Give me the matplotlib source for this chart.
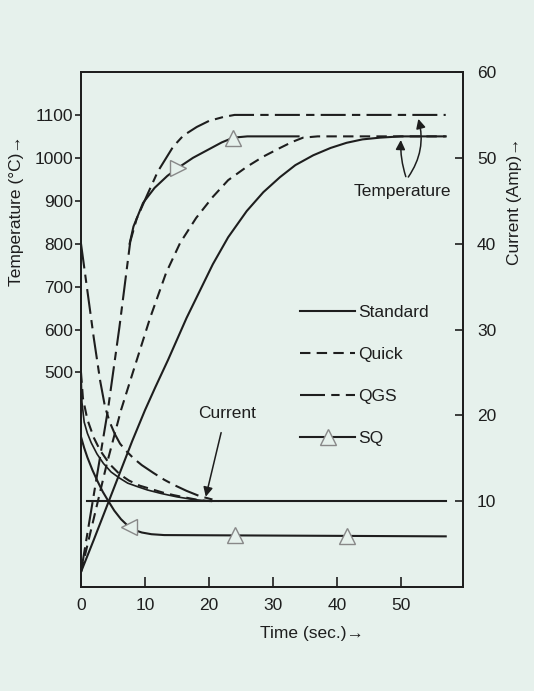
import numpy as np
import matplotlib
matplotlib.use("Agg")
import matplotlib.pyplot as plt
from matplotlib import font_manager
from matplotlib.lines import Line2D

names = set(f.name for f in font_manager.fontManager.ttflist)
fam = "Liberation Sans Narrow" if "Liberation Sans Narrow" in names else "Liberation Sans"
plt.rcParams['font.family'] = [fam, 'DejaVu Sans']

# temperature curves (deg C) vs time (s)
std_temp_t = [0, 2, 5, 8, 10, 11.6, 13.6, 16.5, 20.6, 23, 25.9, 28.5, 31.1, 33.5, 36.3, 39, 41.5, 44, 46.7, 50, 57]
std_temp = [35, 110, 225, 340, 412, 465, 529, 627, 752, 815, 876, 920, 955, 983, 1006, 1023, 1035, 1043, 1047, 1050, 1050]

quick_temp_t = [0, 2, 4, 6.25, 8, 10.8, 13.3, 15.5, 18, 20.6, 23, 25.9, 28.5, 31.1, 33, 34.7, 37, 57]
quick_temp = [35, 160, 285, 412, 495, 627, 732, 802, 860, 909, 948, 979, 1003, 1023, 1037, 1047, 1050, 1050]

qgs_temp_t = [0, 2, 4.2, 6, 7.7, 8.7, 10.3, 12, 14.4, 16, 18.1, 20, 22.2, 24, 57]
qgs_temp = [35, 215, 412, 605, 805, 858, 912, 968, 1026, 1052, 1072, 1086, 1095, 1100, 1100]

sq_temp_t = [7.6, 8.2, 9.7, 11.5, 13.5, 15.2, 17.5, 20, 22, 23.8, 26, 34]
sq_temp = [800, 840, 895, 930, 958, 977, 1000, 1020, 1036, 1047, 1050, 1050]
sq_temp_marks = [15.2, 23.8]

# current curves (Amp) vs time (s)
std_cur_t = [1, 57]
std_cur = [10, 10]

arc_cur_t = [0, 0.15, 0.5, 1, 1.6, 2.5, 3.5, 4.7, 6, 7.3, 8.8, 10.4, 12.5, 15, 17.5, 20]
arc_cur = [25, 21.5, 19.2, 17.9, 16.8, 15.5, 14.4, 13.4, 12.7, 12.1, 11.7, 11.3, 10.9, 10.5, 10.2, 10.0]

quick_cur_t = [0, 0.3, 1, 2, 3, 4.5, 6.1, 7.5, 9.2, 11, 12.8, 14.5, 16.5, 18.6, 20.5]
quick_cur = [25, 22, 19.5, 17.4, 15.9, 14.3, 13.1, 12.4, 11.8, 11.4, 11.0, 10.7, 10.4, 10.1, 10.0]

qgs_cur_t = [0, 1, 2, 3, 3.75, 4.5, 5.3, 6.1, 7, 8.2, 9.5, 11.3, 13, 14.5, 16.5, 18.5, 20, 21.5]
qgs_cur = [40, 34.5, 29, 24, 21, 19.2, 17.8, 16.7, 15.9, 15.0, 14.2, 13.3, 12.5, 11.9, 11.2, 10.6, 10.3, 10.0]

sq_cur_t = [0, 0.5, 1, 1.8, 2.6, 3.4, 4.2, 5.2, 6.25, 7.5, 8.5, 9.5, 11, 13, 57]
sq_cur = [17.5, 16.2, 15.1, 13.6, 12.3, 11.1, 10.1, 8.9, 7.9, 7.0, 6.6, 6.35, 6.15, 6.05, 5.9]
sq_cur_marks = [7.5, 24, 41.5]

ink = '#1e1e1e'
bg = '#e6f1ec'
lw = 1.5
dash_q = (0, (5, 3))
dash_g = (0, (12, 3, 4, 3))

fig = plt.figure(figsize=(5.34, 6.91), dpi=100, facecolor=bg)
ax = fig.add_axes([81/534, 1-587/691, 382/534, 515/691])
ax.set_facecolor(bg)
ax2 = ax.twinx()

ax.plot(std_temp_t, std_temp, color=ink, lw=lw)
ax.plot(quick_temp_t, quick_temp, color=ink, lw=lw, linestyle=dash_q)
ax.plot(qgs_temp_t, qgs_temp, color=ink, lw=lw, linestyle=dash_g)
ax.plot(sq_temp_t, sq_temp, color=ink, lw=lw)

ax2.plot(std_cur_t, std_cur, color=ink, lw=lw)
ax2.plot(arc_cur_t, arc_cur, color=ink, lw=1.2)
ax2.plot(quick_cur_t, quick_cur, color=ink, lw=lw, linestyle=dash_q)
ax2.plot(qgs_cur_t, qgs_cur, color=ink, lw=lw, linestyle=dash_g)
ax2.plot(sq_cur_t, sq_cur, color=ink, lw=lw)

tri = dict(ms=12, mfc=bg, mec='#888888', mew=1.0, linestyle='none', zorder=5)
marks_t = ['>', '^']
for tm, m in zip(sq_temp_marks, marks_t):
    ax.plot([tm], [np.interp(tm, sq_temp_t, sq_temp)], marker=m, **tri)
marks_c = ['<', '^', '^']
for tm, m in zip(sq_cur_marks, marks_c):
    ax2.plot([tm], [np.interp(tm, sq_cur_t, sq_cur)], marker=m, **tri)

ax.set_xlim(0, 59.7)
ax.set_ylim(0, 1200)
ax2.set_ylim(0, 60)
ax.set_xticks([0, 10, 20, 30, 40, 50])
ax.set_yticks([500, 600, 700, 800, 900, 1000, 1100])
ax2.set_yticks([10, 20, 30, 40, 50, 60])

fs = 12.5
ax.tick_params(axis='x', direction='in', length=7, width=1.2, pad=8, labelsize=fs, colors=ink)
ax.tick_params(axis='y', direction='out', length=4, width=1.2, pad=1.5, labelsize=fs, colors=ink)
ax2.tick_params(axis='y', direction='in', length=6, width=1.2, pad=10, labelsize=fs, colors=ink)
for a in (ax, ax2):
    for s in a.spines.values():
        s.set_linewidth(1.3)
        s.set_color(ink)

ax.set_xlabel('Time (sec.)\u2192', fontsize=fs, color=ink)
ax.xaxis.set_label_coords(0.605, -0.075)
ax.set_ylabel('Temperature (\u00b0C)\u2192', fontsize=fs, color=ink)
ax.yaxis.set_label_coords(-0.15, 0.73)
ax2.set_ylabel('Current (Amp)\u2192', fontsize=fs, color=ink)
ax2.yaxis.set_label_coords(1.115, 0.75)

# annotations
ap = dict(arrowstyle='-|>', color=ink, lw=1.1, mutation_scale=14)
ax.annotate('', xy=(50.0, 1048), xytext=(50.9, 950),
            arrowprops=dict(ap, connectionstyle='arc3,rad=-0.1'))
ax.annotate('', xy=(52.6, 1097), xytext=(50.9, 950),
            arrowprops=dict(ap, connectionstyle='arc3,rad=0.25'))
ax.text(50.2, 921, 'Temperature', ha='center', va='center', fontsize=12.5, color=ink)
ax2.annotate('', xy=(19.4, 10.2), xytext=(22.0, 18.3), arrowprops=ap)
ax2.text(22.8, 20.2, 'Current', ha='center', va='center', fontsize=12.5, color=ink)

handles = [
    Line2D([], [], color=ink, lw=lw),
    Line2D([], [], color=ink, lw=lw, linestyle=dash_q),
    Line2D([], [], color=ink, lw=lw, linestyle=dash_g),
    Line2D([], [], color=ink, lw=lw, marker='^', ms=12, mfc=bg, mec='#888888', mew=1.0),
]
labels = ['Standard', 'Quick', 'QGS', 'SQ']
ax2.legend(handles, labels, loc='upper left', bbox_to_anchor=(0.55, 0.565), frameon=False,
           fontsize=12.5, handlelength=3.2, handletextpad=0.15, labelspacing=1.55, numpoints=1,
           borderpad=0, labelcolor=ink)

fig.savefig('out.png', dpi=100, facecolor=bg)
